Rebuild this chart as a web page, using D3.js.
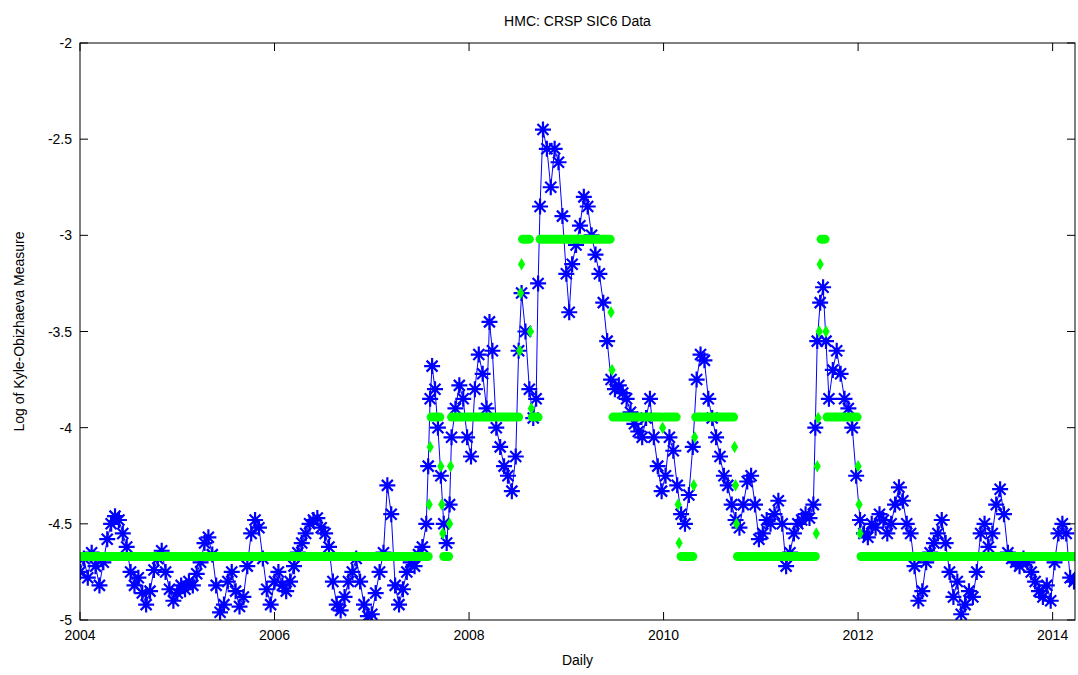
<!DOCTYPE html>
<html><head><meta charset="utf-8">
<script src="https://cdn.jsdelivr.net/npm/d3@7"></script>
<style>body{margin:0;background:#fff}text{font-family:"Liberation Sans",Arial,sans-serif}</style>
</head><body><svg id="chart" width="1078" height="675"></svg>
<script>
// blue series: [decimal year, log KO measure]
const blueYears = [2004.00,2004.04,2004.08,2004.12,2004.16,2004.20,2004.24,2004.28,2004.32,2004.36,2004.40,2004.44,2004.48,2004.52,2004.56,2004.60,2004.64,2004.68,2004.72,2004.76,2004.80,2004.84,2004.88,2004.92,2004.96,2005.00,2005.04,2005.08,2005.12,2005.16,2005.20,2005.24,2005.28,2005.32,2005.36,2005.40,2005.44,2005.48,2005.52,2005.56,2005.60,2005.64,2005.68,2005.72,2005.76,2005.80,2005.84,2005.88,2005.92,2005.96,2006.00,2006.04,2006.08,2006.12,2006.16,2006.20,2006.24,2006.28,2006.32,2006.36,2006.40,2006.44,2006.48,2006.52,2006.56,2006.60,2006.64,2006.68,2006.72,2006.76,2006.80,2006.84,2006.88,2006.92,2006.96,2007.00,2007.04,2007.08,2007.12,2007.16,2007.20,2007.24,2007.28,2007.32,2007.36,2007.40,2007.44,2007.48,2007.52,2007.56,2007.58,2007.60,2007.62,2007.65,2007.68,2007.71,2007.74,2007.77,2007.80,2007.82,2007.86,2007.90,2007.94,2007.98,2008.02,2008.06,2008.10,2008.14,2008.18,2008.21,2008.24,2008.28,2008.32,2008.36,2008.40,2008.44,2008.48,2008.51,2008.54,2008.58,2008.62,2008.66,2008.69,2008.71,2008.73,2008.76,2008.80,2008.84,2008.88,2008.92,2008.96,2009.00,2009.03,2009.06,2009.10,2009.14,2009.18,2009.22,2009.26,2009.30,2009.34,2009.38,2009.42,2009.46,2009.50,2009.54,2009.58,2009.62,2009.66,2009.70,2009.74,2009.78,2009.82,2009.86,2009.90,2009.94,2009.98,2010.02,2010.06,2010.10,2010.14,2010.18,2010.22,2010.26,2010.30,2010.34,2010.38,2010.42,2010.46,2010.50,2010.54,2010.58,2010.62,2010.66,2010.70,2010.74,2010.78,2010.82,2010.86,2010.90,2010.94,2010.98,2011.02,2011.06,2011.10,2011.14,2011.18,2011.22,2011.26,2011.30,2011.34,2011.38,2011.42,2011.46,2011.50,2011.54,2011.56,2011.58,2011.61,2011.64,2011.67,2011.70,2011.74,2011.78,2011.82,2011.86,2011.90,2011.94,2011.98,2012.02,2012.06,2012.10,2012.14,2012.18,2012.22,2012.26,2012.30,2012.34,2012.38,2012.42,2012.46,2012.50,2012.54,2012.58,2012.62,2012.66,2012.70,2012.74,2012.78,2012.82,2012.86,2012.90,2012.94,2012.98,2013.02,2013.06,2013.10,2013.14,2013.18,2013.22,2013.26,2013.30,2013.34,2013.38,2013.42,2013.46,2013.50,2013.54,2013.58,2013.62,2013.66,2013.70,2013.74,2013.78,2013.82,2013.86,2013.90,2013.94,2013.98,2014.02,2014.06,2014.10,2014.14,2014.18,2014.22];
const blueValues = [-4.75,-4.68,-4.78,-4.65,-4.72,-4.82,-4.70,-4.58,-4.50,-4.46,-4.48,-4.55,-4.62,-4.75,-4.82,-4.78,-4.86,-4.92,-4.85,-4.74,-4.68,-4.64,-4.75,-4.84,-4.90,-4.86,-4.82,-4.84,-4.80,-4.82,-4.76,-4.70,-4.60,-4.57,-4.66,-4.82,-4.96,-4.92,-4.80,-4.75,-4.85,-4.93,-4.88,-4.72,-4.55,-4.48,-4.52,-4.68,-4.84,-4.92,-4.80,-4.75,-4.82,-4.85,-4.80,-4.72,-4.65,-4.60,-4.55,-4.50,-4.48,-4.47,-4.52,-4.55,-4.62,-4.80,-4.92,-4.95,-4.88,-4.80,-4.75,-4.68,-4.80,-4.92,-4.98,-4.97,-4.86,-4.75,-4.65,-4.30,-4.45,-4.82,-4.92,-4.84,-4.75,-4.70,-4.72,-4.66,-4.62,-4.50,-4.20,-3.85,-3.68,-3.80,-4.00,-4.25,-4.50,-4.60,-4.40,-4.05,-3.90,-3.78,-3.85,-4.05,-4.15,-3.80,-3.62,-3.72,-3.90,-3.45,-3.60,-4.00,-4.10,-4.20,-4.25,-4.33,-4.15,-3.60,-3.30,-3.50,-3.80,-3.95,-3.85,-3.25,-2.85,-2.45,-2.55,-2.75,-2.55,-2.62,-2.90,-3.20,-3.40,-3.15,-3.05,-2.95,-2.80,-2.85,-3.00,-3.10,-3.20,-3.35,-3.55,-3.75,-3.80,-3.78,-3.82,-3.85,-3.92,-3.98,-4.02,-4.05,-3.95,-3.85,-4.05,-4.20,-4.33,-4.25,-4.05,-4.12,-4.30,-4.45,-4.50,-4.35,-4.10,-3.75,-3.62,-3.65,-3.85,-3.95,-4.05,-4.15,-4.25,-4.30,-4.40,-4.48,-4.52,-4.40,-4.28,-4.25,-4.40,-4.58,-4.55,-4.48,-4.50,-4.45,-4.38,-4.50,-4.72,-4.65,-4.55,-4.50,-4.48,-4.45,-4.47,-4.40,-4.00,-3.55,-3.35,-3.27,-3.55,-3.85,-3.70,-3.60,-3.72,-3.85,-3.90,-4.00,-4.25,-4.48,-4.55,-4.57,-4.50,-4.52,-4.45,-4.48,-4.55,-4.50,-4.40,-4.31,-4.38,-4.50,-4.55,-4.72,-4.90,-4.85,-4.70,-4.65,-4.60,-4.55,-4.48,-4.60,-4.75,-4.88,-4.80,-4.97,-4.92,-4.85,-4.88,-4.75,-4.55,-4.50,-4.62,-4.55,-4.40,-4.32,-4.45,-4.65,-4.68,-4.70,-4.72,-4.68,-4.70,-4.75,-4.80,-4.85,-4.88,-4.82,-4.90,-4.70,-4.55,-4.50,-4.55,-4.78,-4.80];

// green regime levels: [start, end, level]
const greenSegments = [
  [2004.00,2007.58,-4.67],[2007.61,2007.70,-3.945],[2007.74,2007.79,-4.67],
  [2007.82,2008.51,-3.945],[2008.55,2008.62,-3.02],[2008.65,2008.71,-3.945],
  [2008.73,2009.45,-3.02],[2009.48,2009.97,-3.945],[2010.01,2010.13,-3.945],
  [2010.18,2010.30,-4.67],[2010.33,2010.72,-3.945],[2010.76,2011.56,-4.67],
  [2011.62,2011.66,-3.02],[2011.68,2011.99,-3.945],[2012.03,2014.23,-4.67]
];
const greenDotYears = [2007.59,2007.60,2007.71,2007.72,2007.73,2007.80,2007.81,2008.52,2008.53,2008.54,2008.63,2008.64,2009.46,2009.47,2009.99,2010.15,2010.16,2010.31,2010.32,2010.73,2010.74,2010.75,2011.57,2011.58,2011.59,2011.60,2011.61,2011.67,2012.00,2012.01,2012.02];
const greenDotValues = [-4.4,-4.1,-4.2,-4.4,-4.55,-4.5,-4.2,-3.6,-3.3,-3.15,-3.5,-3.9,-3.4,-3.7,-4.0,-4.4,-4.6,-4.3,-4.05,-4.1,-4.3,-4.5,-4.55,-4.2,-3.95,-3.5,-3.15,-3.5,-4.2,-4.4,-4.55];

const xTicks = [2004,2006,2008,2010,2012,2014];
const yTicks = [-5,-4.5,-4,-3.5,-3,-2.5,-2];

const svg = d3.select("#chart");
const m = {l:80, r:1075, t:43, b:620};
const x = d3.scaleLinear().domain([2004,2014.23]).range([m.l,m.r]);
const y = d3.scaleLinear().domain([-5,-2]).range([m.b,m.t]);

const plot = svg.append("g");
plot.append("defs").append("clipPath").attr("id","clip")
  .append("rect").attr("x",m.l).attr("y",m.t).attr("width",m.r-m.l).attr("height",m.b-m.t);
const g = plot.append("g").attr("clip-path","url(#clip)");

// blue line + star markers
const blue = blueYears.map((d,i)=>[d,blueValues[i]]);
g.append("path").datum(blue)
  .attr("d",d3.line().x(d=>x(d[0])).y(d=>y(d[1])))
  .attr("fill","none").attr("stroke","#0000ff").attr("stroke-width",1);
const star = "M-8,0H8M0,-8V8M-5.5,-5.5L5.5,5.5M-5.5,5.5L5.5,-5.5";
g.selectAll(".star").data(blue).enter().append("path")
  .attr("transform",d=>`translate(${x(d[0])},${y(d[1])})`)
  .attr("d",star).attr("stroke","#0000ff").attr("stroke-width",2.2).attr("fill","none");

// green regimes
g.selectAll(".seg").data(greenSegments).enter().append("line")
  .attr("x1",d=>x(d[0])).attr("x2",d=>x(d[1]))
  .attr("y1",d=>y(d[2])).attr("y2",d=>y(d[2]))
  .attr("stroke","#00ff00").attr("stroke-width",9).attr("stroke-linecap","round");
g.selectAll(".gdot").data(greenDotYears).enter().append("path")
  .attr("transform",(d,i)=>`translate(${x(d)},${y(greenDotValues[i])})`)
  .attr("d",d3.symbol(d3.symbolDiamond,45)).attr("fill","#00ff00");

// axes box, ticks inward
const ax = svg.append("g").attr("font-size",14).attr("fill","#000");
ax.append("rect").attr("x",m.l).attr("y",m.t).attr("width",m.r-m.l).attr("height",m.b-m.t)
  .attr("fill","none").attr("stroke","#000");
xTicks.forEach(t=>{
  ax.append("line").attr("x1",x(t)).attr("x2",x(t)).attr("y1",m.b).attr("y2",m.b-8).attr("stroke","#000");
  ax.append("line").attr("x1",x(t)).attr("x2",x(t)).attr("y1",m.t).attr("y2",m.t+8).attr("stroke","#000");
  ax.append("text").attr("x",x(t)).attr("y",m.b+20).attr("text-anchor","middle").text(t);
});
yTicks.forEach(t=>{
  ax.append("line").attr("x1",m.l).attr("x2",m.l+8).attr("y1",y(t)).attr("y2",y(t)).attr("stroke","#000");
  ax.append("line").attr("x1",m.r).attr("x2",m.r-8).attr("y1",y(t)).attr("y2",y(t)).attr("stroke","#000");
  ax.append("text").attr("x",m.l-8).attr("y",y(t)+5).attr("text-anchor","end").text(t);
});
ax.append("text").attr("x",(m.l+m.r)/2).attr("y",26).attr("text-anchor","middle").text("HMC: CRSP SIC6 Data");
ax.append("text").attr("x",(m.l+m.r)/2).attr("y",665).attr("text-anchor","middle").text("Daily");
ax.append("text").attr("transform",`translate(24,${(m.t+m.b)/2}) rotate(-90)`)
  .attr("text-anchor","middle").text("Log of Kyle-Obizhaeva Measure");
</script></body></html>
